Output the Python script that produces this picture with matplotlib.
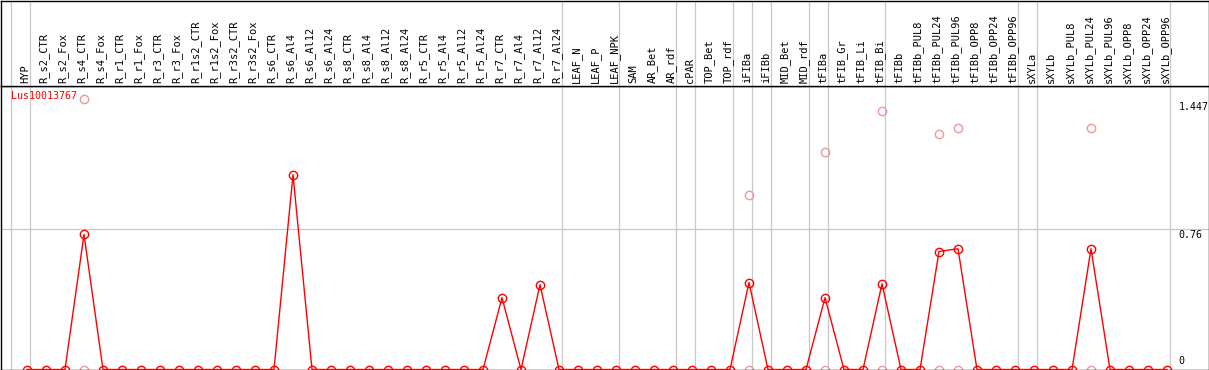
import matplotlib
matplotlib.use('Agg')
import matplotlib.pyplot as plt
import numpy as np

gene = 'Lus10013767'

samples = ['HYP',
           'R_s2_CTR', 'R_s2_Fox', 'R_s4_CTR', 'R_s4_Fox', 'R_r1_CTR', 'R_r1_Fox',
           'R_r3_CTR', 'R_r3_Fox', 'R_r1s2_CTR', 'R_r1s2_Fox', 'R_r3s2_CTR', 'R_r3s2_Fox',
           'R_s6_CTR', 'R_s6_Al4', 'R_s6_Al12', 'R_s6_Al24', 'R_s8_CTR', 'R_s8_Al4',
           'R_s8_Al12', 'R_s8_Al24', 'R_r5_CTR', 'R_r5_Al4', 'R_r5_Al12', 'R_r5_Al24',
           'R_r7_CTR', 'R_r7_Al4', 'R_r7_Al12', 'R_r7_Al24',
           'LEAF_N', 'LEAF_P', 'LEAF_NPK',
           'SAM', 'AR_Bet', 'AR_rdf',
           'cPAR',
           'TOP_Bet', 'TOP_rdf',
           'iFIBa', 'iFIBb',
           'MID_Bet', 'MID_rdf',
           'tFIBa',
           'tFIB_Gr', 'tFIB_Li', 'tFIB_Bi',
           'tFIBb', 'tFIBb_PUL8', 'tFIBb_PUL24', 'tFIBb_PUL96', 'tFIBb_OPP8',
           'tFIBb_OPP24', 'tFIBb_OPP96',
           'sXYLa',
           'sXYLb', 'sXYLb_PUL8', 'sXYLb_PUL24', 'sXYLb_PUL96', 'sXYLb_OPP8',
           'sXYLb_OPP24', 'sXYLb_OPP96']

# samples per group (separated by grey lines)
group_sizes = [1, 28, 3, 3, 1, 2, 1, 1, 2, 1, 3, 7, 1, 7]

# mean expression (red line)
mean_vals = {'R_s4_CTR': 0.728, 'R_s6_Al4': 1.05, 'R_r7_CTR': 0.387, 'R_r7_Al12': 0.457,
             'iFIBa': 0.469, 'tFIBa': 0.387, 'tFIB_Bi': 0.462, 'tFIBb_PUL24': 0.636,
             'tFIBb_PUL96': 0.651, 'sXYLb_PUL24': 0.651}
# replicate max / min (pink markers)
max_vals = {'R_s4_CTR': 1.459, 'iFIBa': 0.943, 'tFIBa': 1.175, 'tFIB_Bi': 1.396,
            'tFIBb_PUL24': 1.272, 'tFIBb_PUL96': 1.303, 'sXYLb_PUL24': 1.30}
min_vals = {k: 0.0 for k in max_vals}

ytick_vals = [0, 0.76, 1.447]
ytick_labels = ['0', '0.76', '1.447']

red = '#ff0000'
pink = '#f09898'
grey = '#c8c8c8'
mono = 'DejaVu Sans Mono'

x = np.arange(len(samples))
y = np.array([mean_vals.get(s, 0.0) for s in samples])
ymax = np.array([max_vals.get(s, np.nan) for s in samples])
ymin = np.array([min_vals.get(s, np.nan) for s in samples])

W, H = 1209, 370
fig = plt.figure(figsize=(W / 100, H / 100), dpi=100)
xlim = ((0.5 - 27) / 19, (1208.5 - 27) / 19)

ax = fig.add_axes([0.5 / W, 0.5 / H, 1208 / W, 284 / H])
hd = fig.add_axes([0.5 / W, 284.5 / H, 1208 / W, 85 / H])

for a in (ax, hd):
    a.set_xlim(*xlim)
    a.set_xticks([])
    a.set_yticks([])
    for sp in a.spines.values():
        sp.set_linewidth(1.0)
        sp.set_color('black')
    # group separators
    ends = np.cumsum([0] + group_sizes) - 1
    for e in ends:
        a.axvline(e + 0.184, color=grey, lw=0.9, zorder=0)

ax.set_ylim(0, 284 / 185.5)
ax.axhline(0.76, color=grey, lw=0.9, zorder=0)

ax.plot(x, ymax, ls='none', marker='o', ms=6, mfc='none', mec=pink, mew=1.0, zorder=2, clip_on=False)
ax.plot(x, ymin, ls='none', marker='o', ms=6, mfc='none', mec=pink, mew=1.0, zorder=2, clip_on=False)
ax.plot(x, y, color=red, lw=1.0, marker='o', ms=6, mfc='none', mec=red, mew=1.0, zorder=3)

tr = ax.get_yaxis_transform()
xl = (1178.5 - 0.5) / 1208
for v, lab in zip(ytick_vals, ytick_labels):
    if v == 0:
        ax.annotate(lab, (xl, v), xycoords=tr, xytext=(0, 3), textcoords='offset pixels',
                    ha='left', va='bottom', fontsize=7.2, family=mono)
    else:
        ax.annotate(lab, (xl, v), xycoords=tr, xytext=(0, -1), textcoords='offset pixels',
                    ha='left', va='top', fontsize=7.2, family=mono)

ax.text(10 / 1208, 96 / 284 * 0 + (369.5 - 96) / 284, gene, transform=ax.transAxes,
        color=red, fontsize=7.2, family=mono, ha='left', va='center')

hd.set_ylim(0, 1)
for i, s in enumerate(samples):
    hd.text(x[i] - 0.1, 2.5 / 85, s, rotation=90, ha='center', va='bottom',
            fontsize=7.5, family=mono)

fig.savefig('out.png', dpi=100)
